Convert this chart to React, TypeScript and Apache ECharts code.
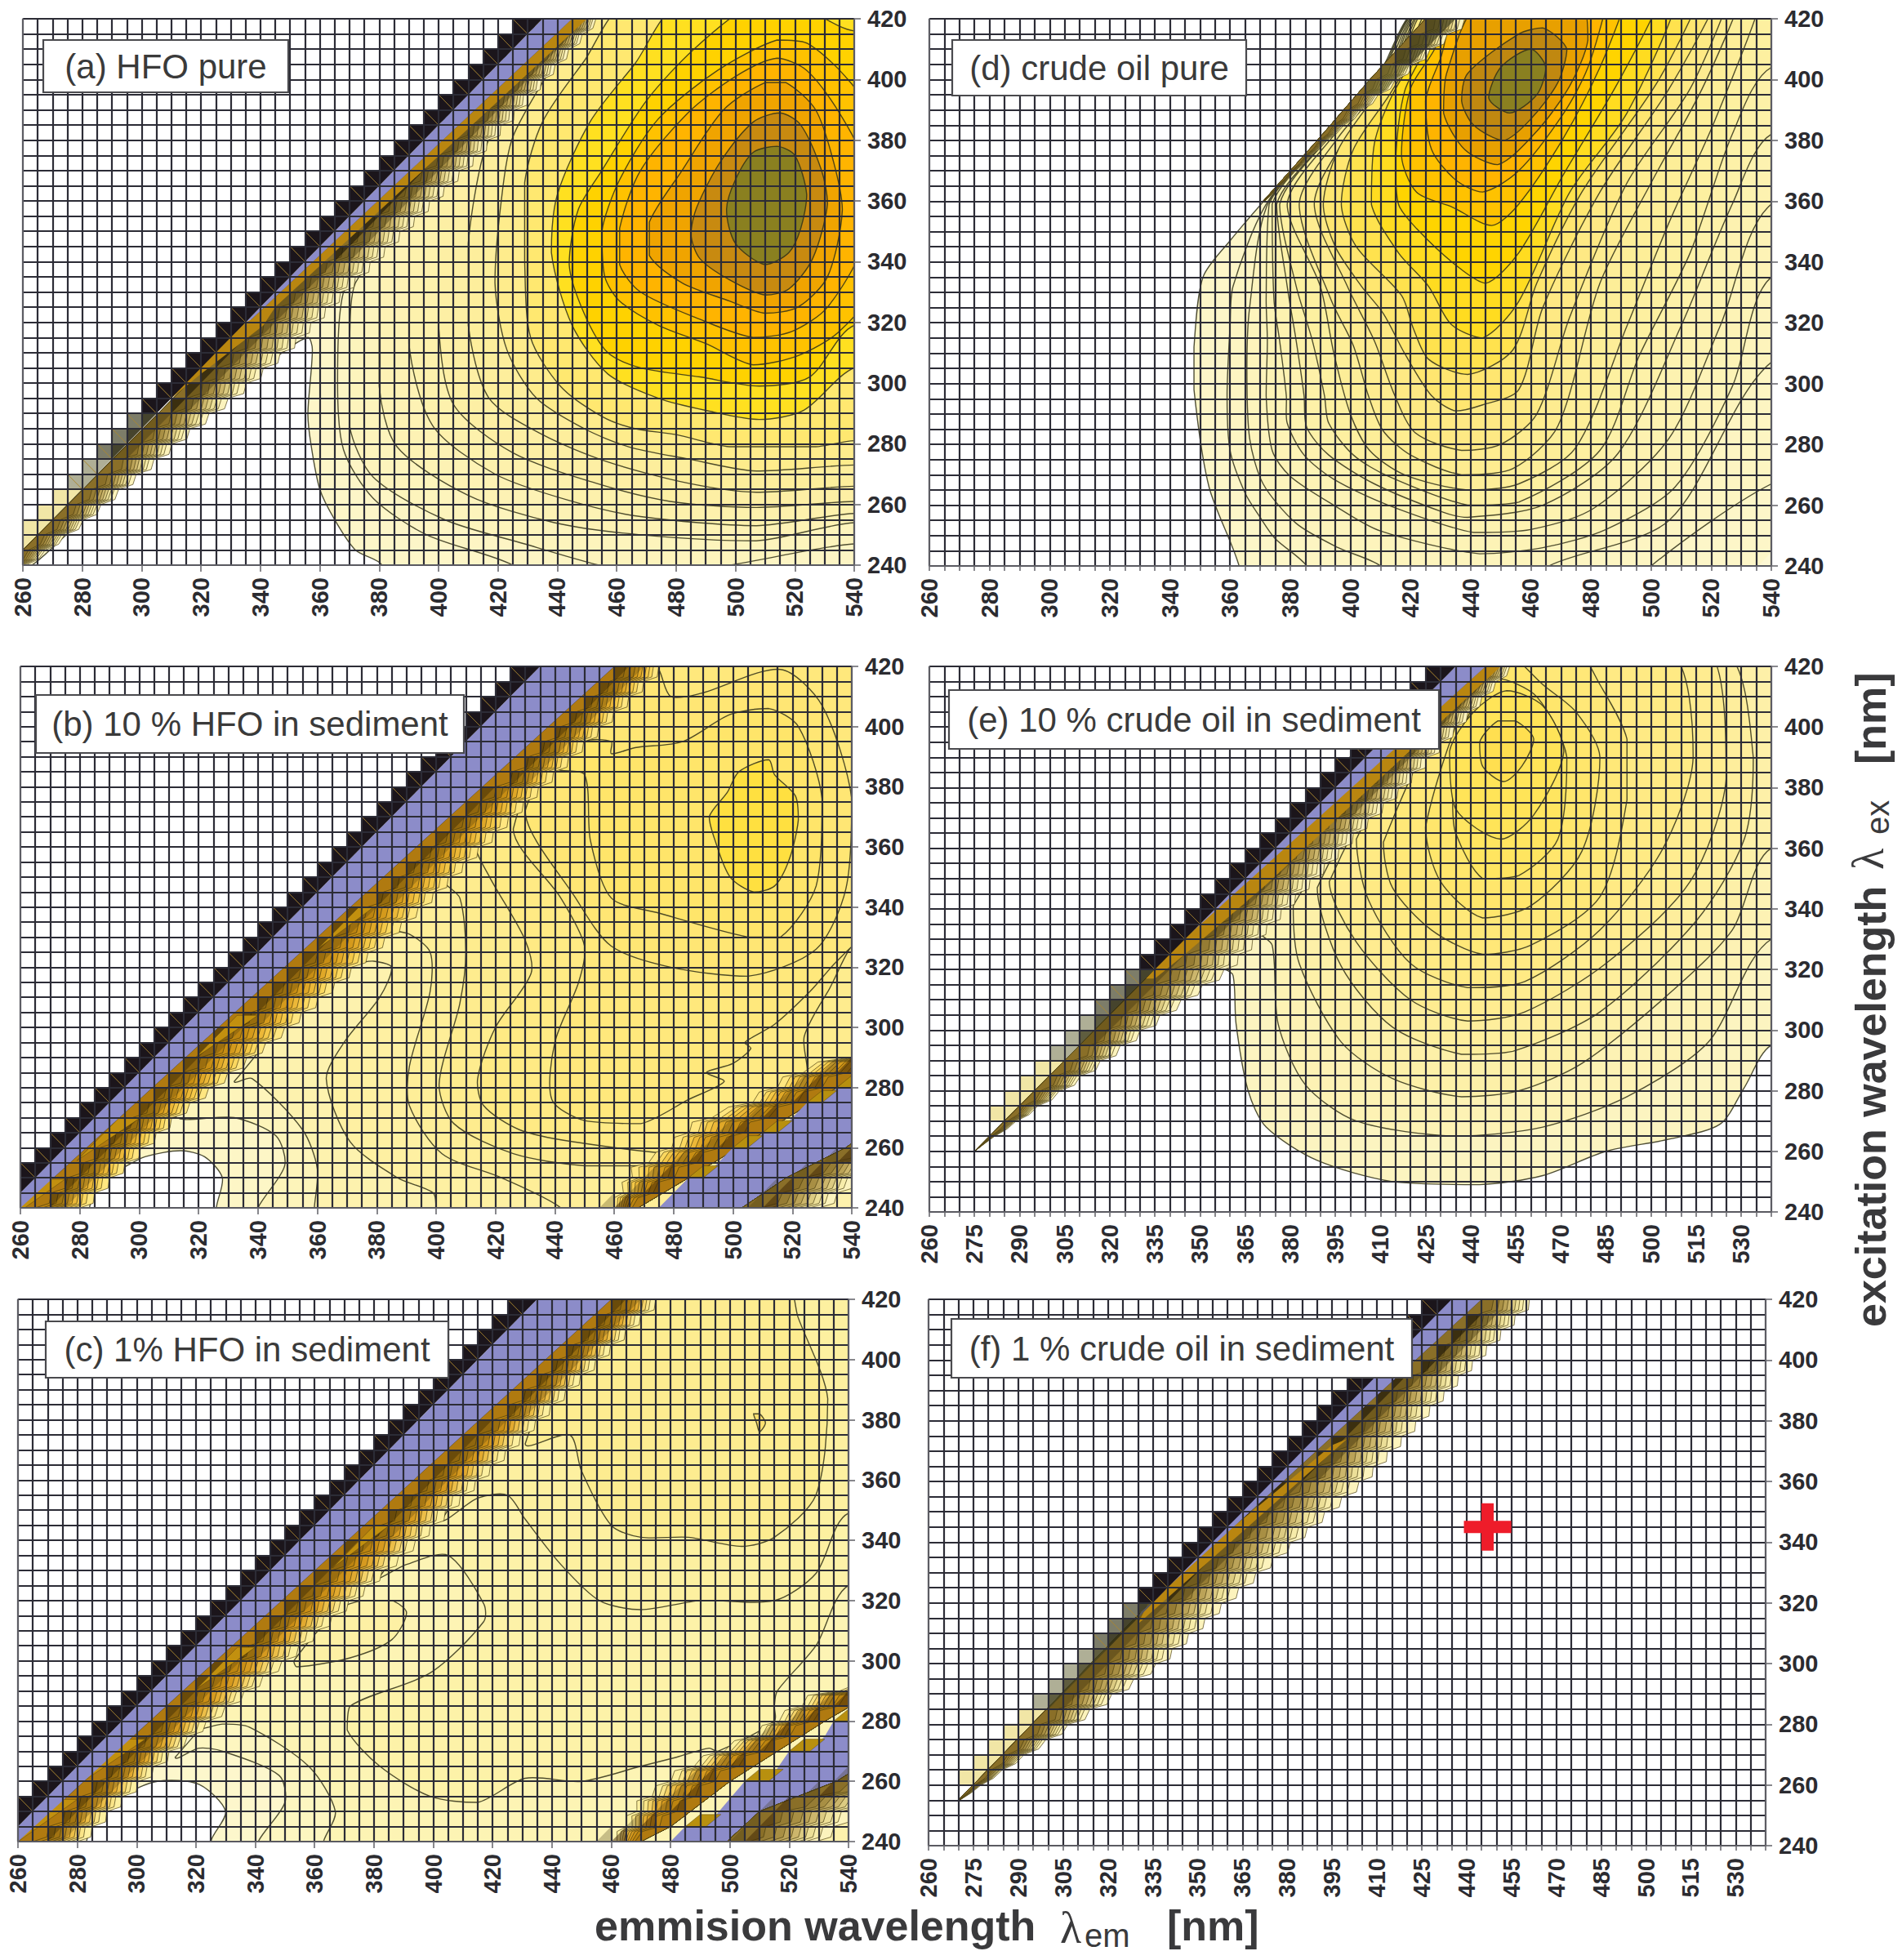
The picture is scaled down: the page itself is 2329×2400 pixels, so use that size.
import React, { useEffect, useRef } from "react";
import * as echarts from "echarts";

type P = number[];
const TICKS_20 = [260, 280, 300, 320, 340, 360, 380, 400, 420, 440, 460, 480, 500, 520, 540];
const TICKS_15 = [260, 275, 290, 305, 320, 335, 350, 365, 380, 395, 410, 425, 440, 455, 470, 485, 500, 515, 530];
const EX_ROWS = [240, 245, 250, 255, 260, 265, 270, 275, 280, 285, 290, 295, 300, 305, 310, 315, 320, 325, 330, 335, 340, 345, 350, 355, 360, 365, 370, 375, 380, 385, 390, 395, 400, 405, 410, 415, 420];

const COLORS_A = ["#fdf6c8", "#fdf5c4", "#fdf4bc", "#fdf2b4", "#fdf1ac", "#fdefa4", "#fdee9c", "#feec8c", "#ffe870", "#ffe020", "#ffd200", "#ffc200", "#ffb400", "#f0a400", "#c88a10", "#8a8020"];
const COLORS_D = ["#fdf6c8", "#fdf5c2", "#fdf4bc", "#fdf3b6", "#fdf2b0", "#fdf1a8", "#fdf0a0", "#fdee98", "#feec90", "#fee984", "#ffe670", "#ffe24e", "#ffdc20", "#ffd400", "#ffc200", "#ffb400", "#e8a000", "#c08810", "#8a8020"];
const COLORS_B = ["#fdf6c6", "#fdf4ba", "#fdf2ae", "#fef0a2", "#feee98", "#feec8e", "#ffea84", "#ffe87c", "#ffe674", "#ffe56a", "#ffe040"];
const COLORS_C = ["#fdf7cc", "#fdf6c0", "#fdf4b4", "#fdf2a8", "#fdf0a4", "#fdf0a0", "#fdec90", "#fde070"];
const COLORS_E = ["#fcf4c0", "#fdf2b4", "#fdf0a8", "#feee9c", "#ffec90", "#ffea84", "#ffe878", "#ffe66c", "#ffe560", "#ffe458", "#ffdf50"];
const RIDGE_PALE = ["#fcf3bd", "#f7ecaa", "#ecdf98", "#dccb82", "#ccb66c", "#bba358", "#a88f44", "#967c34", "#8a6f28"];
const RIDGE_WARM = ["#ffe680", "#fbd860", "#f4c848", "#ecb838", "#e0a828", "#d49a1c", "#c88e14", "#bc8410", "#b07a10"];
const RIDGE_SOFT = ["#fdf0a0", "#fae488", "#f4d268", "#ecbe48", "#e2aa30", "#d69a20", "#ca8e16", "#bc8410", "#b07a10"];
const RIDGE_T = [1, 0.88, 0.8, 0.72, 0.64, 0.56, 0.47, 0.37, 0.25];

const contoursA: P[][] = [
  [[261, 240], [278, 253], [297, 269], [315, 284], [333, 298], [346, 309], [356, 315], [357.5, 311], [356, 290], [357, 280], [360, 265], [365, 255], [372, 245], [381, 240], [381, 230], [600, 230], [600, 440], [450, 425]],
  [[425, 235], [425, 240], [396, 250], [378, 262], [368, 278], [366, 300], [368, 330], [440, 425], [600, 425], [600, 235]],
  [[600, 247], [540, 247], [498, 240], [470, 237], [454, 240], [429, 247], [402, 255], [378, 269], [370, 286], [370, 313], [372, 333], [440, 425], [600, 425]],
  [[600, 254], [540, 254], [507, 248], [468, 250], [439, 254], [410, 263], [386, 279], [380, 299], [380, 346], [440, 425], [600, 425]],
  [[600, 257], [540, 257], [507, 253], [468, 256], [445, 261], [419, 270], [398, 286], [390, 313], [390, 357], [440, 425], [600, 425]],
  [[600, 261], [540, 261], [507, 259], [478, 261], [453, 267], [425, 277], [405, 293], [400, 319], [400, 359], [407, 378], [440, 425], [600, 425]],
  [[600, 266], [540, 266], [507, 264], [484, 267], [457, 274], [435, 283], [417, 295], [410, 319], [410, 346], [415, 375], [423, 393], [440, 425], [600, 425]],
  [[600, 273], [540, 273], [507, 271], [484, 275], [464, 279], [449, 285], [433, 295], [423, 311], [419, 333], [421, 359], [425, 381], [441, 409], [449, 425], [600, 425]],
  [[600, 281], [540, 281], [527, 279], [498, 279], [480, 283], [466, 285], [455, 289], [441, 299], [431, 315], [429, 340], [429, 366], [435, 386], [449, 406], [464, 425], [600, 425]],
  [[600, 320], [540, 305], [523, 291], [508, 288], [490, 291], [474, 295], [457, 303], [445, 319], [438, 343], [440, 362], [451, 386], [466, 405], [482, 425], [600, 425]],
  [[508, 299], [488, 302], [468, 305], [457, 310], [449, 323], [444, 339], [447, 357], [455, 370], [470, 393], [486, 410], [506, 425], [520, 425], [540, 416], [600, 416], [600, 330], [540, 319], [525, 302]],
  [[506, 306], [490, 313], [474, 319], [461, 327], [456, 335], [455, 350], [461, 367], [474, 387], [494, 403], [514, 413], [524, 412], [537, 401], [547, 386], [547, 333], [535, 317], [521, 309]],
  [[506, 315], [488, 321], [468, 330], [461, 339], [461, 351], [468, 370], [484, 389], [500, 401], [514, 407], [524, 403], [535, 389], [543, 373], [543, 346], [531, 325], [519, 317]],
  [[510, 323], [498, 327], [482, 333], [471, 342], [471, 353], [482, 370], [496, 390], [510, 399], [517, 399], [527, 390], [533, 373], [536, 357], [531, 335], [521, 325]],
  [[510, 329], [498, 334], [488, 341], [485, 349], [487, 358], [495, 373], [506, 386], [515, 389], [522, 385], [529, 370], [531, 359], [526, 341], [518, 331]],
  [[510, 339], [500, 346], [497, 357], [500, 367], [506, 376], [514, 378], [520, 375], [524, 362], [522, 351], [518, 343]],
];

const contoursD: P[][] = [
  [[363, 240], [353, 266], [348, 298], [348, 312], [351, 335], [360, 347], [373, 362], [387, 377], [397, 389], [406, 398], [415, 410], [425, 420], [425, 425], [600, 425], [600, 230], [363, 230]],
  [[385, 235], [385.5, 240], [375, 249], [370, 256], [365, 264], [360, 278], [359, 296], [360, 319], [361, 332], [372, 359], [389.5, 379], [408, 399], [425.2, 425], [600, 425], [600, 290], [540, 267], [500, 240], [500, 235]],
  [[410, 235], [410, 240], [396, 246], [382, 254], [371, 267], [366.5, 282], [365.6, 305], [366.5, 325], [372.5, 359], [390, 379], [408.5, 399], [425.4, 425], [600, 425], [600, 330], [540, 307], [506, 255], [466, 240], [466, 235]],
  [[443, 244], [410, 251.5], [394.5, 260], [380, 269.5], [374, 278], [372, 296], [372.4, 314], [372, 327.5], [373, 359], [390.5, 379], [409, 399], [425.6, 425], [600, 425], [600, 360], [540, 335], [527, 299], [508, 266], [485, 252], [464, 246]],
  [[441, 251], [412.6, 260], [394.5, 268.5], [384.6, 276.5], [379, 287], [378.7, 296], [376.5, 314], [374.6, 327.5], [374, 359], [391, 380], [410, 399], [425.8, 425], [600, 425], [600, 380], [540, 359], [523, 319], [506, 282], [481, 259], [460, 252]],
  [[439, 256], [430.8, 257.7], [408, 267], [392.8, 276.5], [385.5, 285.6], [384.6, 296], [382, 314], [379, 332], [375.5, 359], [392, 380], [411, 399], [426, 425], [600, 425], [600, 400], [540, 382], [527, 359], [510, 319], [489, 277], [464, 260]],
  [[439, 260], [412.6, 269.5], [401, 276.5], [392.8, 287], [391.4, 296], [387.4, 314], [382, 332], [376.5, 359], [393, 381], [412, 400], [426.3, 425], [600, 425], [600, 420], [540, 404], [527, 382], [513, 343], [496, 309], [483, 278], [456, 261]],
  [[439, 265], [418, 270], [406.4, 278], [400, 290], [394.5, 310], [390, 332], [379, 359], [394, 381], [413, 401], [426.6, 425], [536, 425], [521, 386], [506, 353], [492, 319], [475, 279], [456, 267]],
  [[437, 270], [420, 276.5], [410.8, 284.6], [406, 296], [401, 312.5], [393.6, 327.5], [383, 359], [396, 381], [414, 402], [427, 425], [529, 425], [517, 397], [500, 366], [483, 333], [469, 286], [454, 272]],
  [[437, 278], [421.6, 283.8], [414.8, 296], [408, 314], [399, 332], [388, 359], [398, 380], [415, 402], [427.5, 425], [525, 425], [513, 397], [492, 366], [473, 322], [462, 290], [450, 280]],
  [[435, 291], [427, 296], [418, 310], [411, 323], [403.7, 332], [395, 345], [391, 359], [396, 377], [407, 393], [419, 409], [428.5, 425], [521, 425], [506, 397], [483, 363], [464, 325], [456, 298], [444, 293]],
  [[439, 303], [426, 308], [421, 318], [417, 329], [402, 345], [397, 359], [401, 377], [413, 395], [422, 410], [429.5, 425], [515, 425], [502, 399], [477, 363], [462, 333], [454, 311]],
  [[444, 315], [433.5, 319.5], [426, 332], [416, 343], [407, 359], [408, 379], [414, 395], [424, 412], [430.5, 425], [508, 425], [492, 389], [473, 363], [456, 327]],
  [[445, 333], [435, 339], [422, 351], [416, 359], [415, 373], [418, 396], [425, 410], [432, 425], [502, 425], [489, 399], [471, 369], [456, 343]],
  [[447, 352], [434, 358], [422, 363], [417, 375], [420, 397], [428, 410], [434, 425], [491, 425], [483, 404], [471, 381], [456, 359]],
  [[444, 363], [435, 367], [427, 377], [425, 393], [430, 407], [437, 425], [485, 425], [479, 404], [471, 389], [456, 370]],
  [[449, 372], [438, 377], [431, 389], [432, 402], [443, 425], [477, 425], [479, 413], [473, 398], [462, 383]],
  [[451, 380], [441, 385], [437, 393], [439, 402], [456, 415], [464, 417], [472, 410], [469, 399], [460, 387]],
  [[453, 389], [446, 394], [450, 404], [460, 410], [465, 404], [462, 395]],
];

const contoursB: P[][] = [
  [[262, 236], [281, 236], [286, 249], [294, 253], [302, 257], [314, 259], [322, 257], [328, 250], [326, 240], [326, 225], [600, 225], [600, 440], [480, 440]],
  [[340, 235], [340, 240], [349, 254], [346, 264], [332, 270], [312, 271], [462, 425], [600, 425], [600, 235]],
  [[359, 235], [359, 240], [360, 253], [355, 266], [338, 283], [332, 282], [462, 425], [600, 425], [600, 235]],
  [[400, 235], [400, 240], [399, 245], [387, 250], [371, 262], [363, 283], [369, 295], [381, 310], [385, 320], [379, 322], [372, 322], [462, 425], [600, 425], [600, 235]],
  [[442, 235], [442, 240], [422, 250], [402, 258], [391, 274], [391, 287], [398, 312], [398, 325], [391, 331], [381, 334], [462, 425], [600, 425], [600, 235]],
  [[600, 300], [480, 254], [450, 254], [426, 258], [406, 268], [401, 281], [408, 308], [410, 325], [408, 343], [402, 350], [462, 425], [600, 425]],
  [[482, 258], [446, 262], [428, 266], [416, 274], [414, 283], [420, 300], [432, 318], [430, 329], [418, 350], [413, 361], [462, 425], [600, 425], [600, 340], [545, 332], [532, 312], [524, 297], [524, 282]],
  [[439, 276], [450, 269], [469, 268], [485, 276], [497, 282], [491, 285], [500, 288], [506, 293], [504, 295], [514, 301], [526, 312], [535, 322], [545, 330], [600, 340], [600, 425], [462, 425], [426, 366], [442, 343], [450, 327], [448, 315], [440, 295]],
  [[430, 372], [447, 343], [459, 327], [479, 320], [505, 317], [528, 326], [538, 346], [540, 376], [530, 407], [516, 419], [489, 411], [479, 410], [475, 419], [470, 425]],
  [[441, 386], [450, 384], [452, 362], [459, 343], [475, 338], [505, 330], [516, 330], [528, 347], [530, 376], [522, 400], [512, 406], [499, 404], [483, 395], [467, 393], [459, 391], [459, 395], [450, 395]],
  [[507, 345], [499, 350], [494, 362], [492, 370], [498, 378], [502, 385], [512, 389], [514, 384], [521, 377], [522, 369], [519, 356], [514, 347]],
];

const contoursC: P[][] = [
  [[262, 236], [281, 236], [285, 246], [295, 255], [307, 260], [321, 259], [330, 250], [325, 240], [325, 225], [600, 225], [600, 440], [480, 440]],
  [[341, 235], [341, 240], [350, 253], [348, 262], [329, 270], [321, 271], [313, 268], [462, 425], [600, 425], [600, 235]],
  [[363, 235], [363, 240], [367, 250], [358, 265], [338, 278], [329, 279], [321, 278], [462, 425], [600, 425], [600, 235]],
  [[600, 425], [462, 425], [382, 328], [391, 332], [405, 335], [417, 319], [417, 313], [399, 296], [372, 285], [371, 277], [382, 265], [399, 255], [415, 253], [431, 261], [450, 260], [470, 265], [482, 268], [493, 271], [496, 270], [515, 280], [515, 285], [516, 290], [529, 305], [540, 325], [600, 345]],
  [[353, 300], [354, 298], [372, 301], [386, 307], [391, 316], [386, 320], [376, 320], [368, 317]],
  [[600, 425], [462, 425], [403, 347], [415, 354], [425, 355], [431, 347], [443, 332], [456, 320], [470, 317], [490, 320], [515, 320], [529, 329], [540, 349], [600, 360]],
  [[431, 372], [446, 375], [450, 363], [460, 345], [470, 341], [486, 341], [504, 338], [515, 341], [529, 355], [533, 387], [523, 414], [519, 425], [462, 425]],
  [[508, 382], [510, 382], [512, 379], [510, 376], [509, 379]],
];

const contoursE: P[][] = [
  [[358, 320], [361, 318], [362, 302], [366, 280], [372, 268], [389, 257], [414, 250], [443, 249], [464, 252], [485, 260], [506, 264], [523, 269], [531, 281], [540, 295], [600, 320], [600, 440], [460, 440], [340, 320]],
  [[369, 333], [374, 328], [376, 302], [385, 282], [402, 270], [435, 265], [464, 268], [492, 278], [519, 296], [540, 330], [600, 345], [600, 425], [445, 425]],
  [[381, 341], [383, 322], [397, 296], [414, 284], [437, 278], [456, 280], [477, 289], [506, 312], [527, 333], [540, 360], [600, 375], [600, 425], [445, 425]],
  [[389, 347], [397, 321], [414, 301], [437, 292], [454, 293], [483, 306], [515, 336], [531, 363], [534, 390], [524, 425], [445, 425]],
  [[393, 349], [402, 329], [420, 310], [439, 303], [458, 306], [485, 322], [513, 349], [525, 383], [519, 425], [445, 425]],
  [[402, 363], [406, 343], [420, 322], [439, 314], [458, 316], [483, 333], [504, 360], [514, 390], [506, 425], [445, 425]],
  [[411, 362], [414, 347], [427, 333], [444, 325], [460, 328], [483, 344], [492, 376], [492, 396], [483, 414], [475, 425], [445, 425]],
  [[425, 367], [430, 349], [444, 337], [460, 341], [477, 359], [483, 390], [475, 405], [464, 414], [452, 425], [445, 425]],
  [[434, 376], [435, 365], [444, 350], [456, 351], [469, 363], [472, 390], [462, 410], [449, 416], [439, 403]],
  [[433, 392], [435, 373], [450, 363], [461, 371], [471, 392], [464, 407], [452, 412], [441, 405]],
  [[451, 382], [444, 387], [443, 395], [449, 402], [455, 402], [461, 396], [457, 387]],
];

const RIM_A: P[] = [[240, 21], [253, 25], [269, 28], [284, 31], [298, 35], [312, 37], [340, 37], [373, 37], [420, 33]];
const CORE_A: P[] = [[240, 15], [321, 16], [420, 25]];
const RIM_BC: P[] = [[240, 40], [250, 40], [271, 41], [300, 49], [340, 54], [420, 55]];
const CORE_BC: P[] = [[240, 20], [420, 40]];
const RIM_D: P[] = [[360, 11.5], [380, 12], [400, 15], [420, 18]];
const CORE_D: P[] = [[360, 11], [380, 9], [400, 6.5], [420, 5]];
const RIM_E: P[] = [[261, 15], [284, 25], [306, 32], [320, 38], [341, 37], [365, 36], [380, 36], [420, 33]];
const CORE_E: P[] = [[261, 15], [332, 15], [420, 25]];
const RIM_F: P[] = [[254, 15], [268, 21], [300, 36], [320, 38], [360, 44], [420, 41]];
const CORE_F: P[] = [[254, 15], [317, 14], [420, 25]];

const RIM2_B: P[] = [[240, 460], [253, 468], [258, 477], [263, 483], [269, 490], [274, 505], [280, 515], [284, 521], [288, 532], [290, 540], [296, 552]];
const CORE2_B: P[] = [[240, 468], [250, 485], [280, 535], [296, 562]];
const RIM2_C: P[] = [[240, 462], [252, 470], [263, 484], [269, 496], [275, 509], [288, 529], [292, 545], [300, 560]];
const CORE2_C: P[] = [[240, 470], [245, 480], [260, 500], [270, 516], [280, 532], [296, 560]];
const RIM3: P[] = [[240, 529], [249, 540], [260, 555]];
const CORE3_B: P[] = [[240, 503], [250, 518], [260, 538], [270, 552]];
const CORE3_C: P[] = [[240, 499], [250, 510], [260, 536], [270, 552]];

const BLUE_A: P[] = [[435, 420], [445, 420], [337, 321], [335, 320]];
const BLUE_BC: P[] = [[435, 420], [460, 420], [260, 240], [260, 245]];
const BLUE_E: P[] = [[435, 420], [445, 420], [347, 332], [346, 331]];
const BLUE_F: P[] = [[434, 420], [445, 420], [331, 317], [330, 315]];
const BLUE2_B: P[] = [[475, 240], [485, 250], [490, 250], [500, 260], [505, 260], [510, 265], [515, 265], [525, 275], [530, 275], [535, 280], [545, 280], [545, 260], [540, 260], [535, 255], [530, 255], [520, 250], [515, 245], [505, 240]];
const BLUE2_C: P[] = [[480, 240], [485, 245], [492, 245], [505, 260], [513, 260], [520, 270], [527, 270], [532, 275], [535, 280], [545, 280], [545, 260], [540, 260], [525, 250], [512, 250], [501, 240]];
const CORNER_PALE: P[] = [[505, 235], [600, 235], [600, 275], [540, 260]];
const CORNER_D: P[] = [[535.6, 240], [540, 244.5], [545, 244.5], [545, 235], [535.6, 235]];

const GOLD_A: P[] = [[445, 420], [450, 420], [345, 325], [341, 319], [320, 303], [305, 291], [304, 290], [335, 320], [337, 321]];
const GOLD_E: P[] = [[445, 420], [450, 420], [372, 348], [345, 325], [335, 317], [332, 317], [346, 332]];
const GOLD_F: P[] = [[395, 372], [400, 374], [345, 326], [330, 313], [335, 323]];
const FLAGS_B: P[] = [[249.5, 269, 275], [269.7, 293, 300], [304, 333, 340], [340, 374, 379]];
const FLAGS_C: P[] = [[254, 274, 280], [274, 296, 303], [304.5, 334, 340], [344.8, 380, 385]];
const FLAGS2_B: P[] = [[250, 485, 490], [260, 500, 505], [265, 510, 515], [275, 525, 530], [280, 535, 540]];
const FLAGS2_C: P[] = [[245, 485, 492], [260, 505, 513], [270, 520, 527], [280, 535, 540]];

const TRI_A: P[] = [[240, 15], [290, 20], [340, 25]];
const TRI_BC: P[] = [[240, 30], [300, 35], [340, 40], [380, 45]];
const TRI_E: P[] = [[260, 10], [290, 15], [330, 20], [370, 25]];
const TRI_F: P[] = [[255, 10], [285, 15], [320, 20], [360, 25], [395, 30]];
const CROSS_F: P = [447, 345];

const interp = (k: P[], ex: number) => {
  if (ex <= k[0][0]) return k[0][1];
  for (let i = 1; i < k.length; i++) {
    if (ex <= k[i][0]) {
      const t = (ex - k[i - 1][0]) / (k[i][0] - k[i - 1][0]);
      return k[i - 1][1] + t * (k[i][1] - k[i - 1][1]);
    }
  }
  return k[k.length - 1][1];
};

type Shape = { pts: P[]; fill: string; stroke?: string; lw?: number; smooth?: number };
const CONTOUR = "rgba(48,48,24,0.85)";
const SCALLOP = "rgba(70,58,14,0.75)";
const BLUE = "#8c8cc9";
const BLACK = "#1b151b";

function contourShapes(polys: P[][], colors: string[]): Shape[] {
  return polys.map((pts, i) => ({ pts, fill: colors[i], stroke: CONTOUR, lw: 1.4, smooth: 0.28 }));
}
function ridgeShapes(rim: P[], core: P[], offsetMode: boolean, rows: number[], palette: string[]): Shape[] {
  const out: Shape[] = [];
  const base = (ex: number) => (offsetMode ? ex : 0);
  RIDGE_T.forEach((t, i) => {
    const pts: P[] = [];
    rows.forEach((r, j) => {
      const e = (ex: number) => {
        const c = base(ex) + interp(core, ex);
        const m = base(ex) + interp(rim, ex);
        return c + (m - c) * t;
      };
      pts.push([e(r), r]);
      if (j < rows.length - 1) {
        const c = base(r + 2.5) + interp(core, r + 2.5);
        const m = base(r + 2.5) + interp(rim, r + 2.5);
        const bulge = Math.sign(m - c) * Math.min(2, Math.abs(m - c) * 0.15);
        pts.push([e(r + 2.5) + bulge, r + 2.5 - bulge * 0.5]);
      }
    });
    for (let j = rows.length - 1; j >= 0; j--) {
      const r = rows[j];
      pts.push([base(r) + interp(core, r), r]);
    }
    out.push({ pts, fill: palette[i], stroke: SCALLOP, lw: 0.9 });
  });
  return out;
}
const TRI_DARK = [0.7, 0.4, 0.36];
const TRI_WARM = [0.46, 0.26, 0.3];
function triShapes(steps: P[], rows: number[], a: number[]): Shape[] {
  const out: Shape[] = [];
  rows.forEach((r) => {
    let k = steps[0][1];
    steps.forEach((s) => {
      if (r >= s[0]) k = s[1];
    });
    const c = r + k;
    out.push({ pts: [[c, r], [c, r + 5], [c + 5, r + 5]], fill: `rgba(25,20,5,${a[0]})` });
    out.push({ pts: [[c + 5, r], [c + 5, r + 5], [c + 10, r + 5]], fill: `rgba(60,50,15,${a[1]})` });
    out.push({ pts: [[c, r], [c + 5, r], [c + 5, r + 5]], fill: `rgba(70,55,10,${a[2]})` });
  });
  return out;
}
function triShapes2(core: P[], rows: number[], shift: number): Shape[] {
  const out: Shape[] = [];
  rows.forEach((r) => {
    const c = Math.round((interp(core, r) + shift) / 5) * 5;
    out.push({ pts: [[c, r], [c + 5, r], [c + 5, r + 5]], fill: "rgba(60,36,4,0.5)" });
    out.push({ pts: [[c - 5, r], [c, r], [c, r + 5]], fill: "rgba(60,50,15,0.28)" });
  });
  return out;
}
function teethShapes(rows: number[], fill: string, stroke?: string): Shape[] {
  return rows.map((r) => ({
    pts: [[r + 10, r], [r + 10, r + 5], [r + 20, r + 5], [r + 15, r]],
    fill,
    stroke,
    lw: stroke ? 1 : 0,
  }));
}
function toothLines(rows: number[]): Shape[] {
  return rows.map((r) => ({
    pts: [[r + 10, r + 5], [r + 15, r]],
    fill: "none",
    stroke: "rgba(170,135,50,0.6)",
    lw: 1,
  }));
}
function flagShapes(flags: P[]): Shape[] {
  return flags.map((f) => ({
    pts: [[f[1], f[0]], [f[2], f[0]], [f[1] - 14, f[0] - 14]],
    fill: "#c2900f",
    stroke: "rgba(70,55,10,0.5)",
    lw: 0.8,
  }));
}
function stairFlags(flags: P[]): Shape[] {
  return flags.map((f) => ({
    pts: [[f[1], f[0]], [f[2], f[0]], [f[2] + 5, f[0] + 4], [f[1] + 5, f[0] + 4]],
    fill: "#b8900f",
    stroke: "rgba(70,55,10,0.5)",
    lw: 0.8,
  }));
}
const rowsBetween = (a: number, b: number) => EX_ROWS.filter((r) => r >= a && r <= b);
const poly = (pts: P[], fill: string): Shape => ({ pts, fill });

const OLIVE = "rgba(58,58,28,0.66)";
const OLIVE_LIGHT = "rgba(96,96,46,0.5)";
const PALE_TOOTH = "#f1e6a6";
const TOOTH_EDGE = "rgba(90,85,40,0.8)";
const GOLD = "#b98610";
const shapesA = [
  ...contourShapes(contoursA, COLORS_A),
  ...teethShapes(rowsBetween(245, 260), PALE_TOOTH, TOOTH_EDGE),
  ...ridgeShapes(RIM_A, CORE_A, true, rowsBetween(240, 420), RIDGE_PALE),
  ...triShapes(TRI_A, rowsBetween(275, 410), TRI_DARK),
  poly(GOLD_A, GOLD),
  poly(BLUE_A, BLUE),
  ...teethShapes(rowsBetween(265, 270), OLIVE_LIGHT),
  ...teethShapes(rowsBetween(275, 285), OLIVE),
  ...teethShapes(rowsBetween(290, 415), BLACK),
  ...toothLines(rowsBetween(265, 415)),
];
const lowerRight = (rim2: P[], core2: P[], blue2: P[], core3: P[], flags2: P[], palette: string[]) => [
  ...ridgeShapes(rim2, core2, false, rowsBetween(240, 295), palette),
  ...triShapes2(core2, rowsBetween(240, 285), -8),
  poly(blue2, BLUE),
  ...stairFlags(flags2),
  poly(CORNER_PALE, "#fdf1ac"),
  ...ridgeShapes(RIM3, core3, false, rowsBetween(240, 265), RIDGE_PALE),
  ...triShapes2(core3, rowsBetween(240, 260), 5),
];
const shapesB = [
  ...contourShapes(contoursB, COLORS_B),
  ...ridgeShapes(RIM_BC, CORE_BC, true, rowsBetween(240, 420), RIDGE_WARM),
  ...triShapes(TRI_BC, rowsBetween(240, 415), TRI_WARM),
  ...flagShapes(FLAGS_B),
  poly(BLUE_BC, BLUE),
  ...teethShapes(rowsBetween(245, 415), BLACK),
  ...toothLines(rowsBetween(245, 415)),
  ...lowerRight(RIM2_B, CORE2_B, BLUE2_B, CORE3_B, FLAGS2_B, RIDGE_WARM),
];
const shapesC = [
  ...contourShapes(contoursC, COLORS_C),
  ...ridgeShapes(RIM_BC, CORE_BC, true, rowsBetween(240, 420), RIDGE_SOFT),
  ...triShapes(TRI_BC, rowsBetween(240, 415), TRI_WARM),
  ...flagShapes(FLAGS_C),
  poly(BLUE_BC, BLUE),
  ...teethShapes(rowsBetween(245, 415), BLACK),
  ...toothLines(rowsBetween(245, 415)),
  ...lowerRight(RIM2_C, CORE2_C, BLUE2_C, CORE3_C, FLAGS2_C, RIDGE_SOFT),
];
const shapesD = [
  ...contourShapes(contoursD, COLORS_D),
  poly(CORNER_D, "#fdf8d4"),
  ...ridgeShapes(RIM_D, CORE_D, true, rowsBetween(360, 420), RIDGE_PALE),
  ...teethShapes(rowsBetween(395, 400), OLIVE_LIGHT),
  ...teethShapes(rowsBetween(405, 415), OLIVE),
];
const shapesE = [
  ...contourShapes(contoursE, COLORS_E),
  ...teethShapes(rowsBetween(270, 285), PALE_TOOTH, TOOTH_EDGE),
  ...ridgeShapes(RIM_E, CORE_E, true, rowsBetween(260, 420), RIDGE_PALE),
  ...triShapes(TRI_E, rowsBetween(295, 410), TRI_DARK),
  poly(GOLD_E, GOLD),
  poly(BLUE_E, BLUE),
  ...teethShapes(rowsBetween(290, 300), OLIVE_LIGHT),
  ...teethShapes(rowsBetween(305, 315), OLIVE),
  ...teethShapes(rowsBetween(320, 415), BLACK),
  ...toothLines(rowsBetween(305, 415)),
];
const shapesF = [
  ...teethShapes(rowsBetween(260, 280), PALE_TOOTH, TOOTH_EDGE),
  ...ridgeShapes(RIM_F, CORE_F, true, rowsBetween(255, 420), RIDGE_PALE),
  ...triShapes(TRI_F, rowsBetween(285, 410), TRI_DARK),
  poly(GOLD_F, GOLD),
  poly(BLUE_F, BLUE),
  ...teethShapes(rowsBetween(285, 300), OLIVE_LIGHT),
  ...teethShapes(rowsBetween(305, 315), OLIVE),
  ...teethShapes(rowsBetween(320, 415), BLACK),
  ...toothLines(rowsBetween(305, 415)),
];

const PANELS = [
  { rect: [28, 23, 1046, 692], shapes: shapesA, labels: TICKS_20, sparse: true, box: [53, 49, 353, 113], title: "(a) HFO pure" },
  { rect: [25, 816, 1043, 1479], shapes: shapesB, labels: TICKS_20, sparse: true, box: [44, 851, 568, 922], title: "(b) 10 % HFO in sediment" },
  { rect: [22, 1591, 1039, 2255], shapes: shapesC, labels: TICKS_20, sparse: true, box: [56, 1618, 549, 1687], title: "(c) 1% HFO in sediment" },
  { rect: [1138, 23, 2169, 693], shapes: shapesD, labels: TICKS_20, sparse: false, box: [1166, 49, 1526, 117], title: "(d) crude oil pure" },
  { rect: [1138, 816, 2169, 1484], shapes: shapesE, labels: TICKS_15, sparse: false, box: [1162, 845, 1762, 917], title: "(e) 10 % crude oil in sediment" },
  { rect: [1137, 1591, 2162, 2260], shapes: shapesF, labels: TICKS_15, sparse: false, box: [1165, 1615, 1729, 1687], title: "(f) 1 % crude oil in sediment" },
];

const LABEL_FONT = { fontFamily: "Liberation Sans", fontWeight: "bold" as const, fontSize: 29, color: "#2b2b30" };
const AXIS_TITLE = '700 52px "Liberation Sans"';
const TITLE_COLOR = "#3a3a3c";

function buildOption() {
  const grid: any[] = [];
  const xAxis: any[] = [];
  const yAxis: any[] = [];
  const series: any[] = [];
  const graphic: any[] = [];
  const grey = { lineStyle: { color: "#6a6a70", width: 1.6 } };
  const gridLine = { show: true, lineStyle: { color: "#2c2c36", width: 2.2 } };

  PANELS.forEach((p, i) => {
    const [l, t, r, b] = p.rect;
    grid.push({ left: l, top: t, width: r - l, height: b - t, containLabel: false, show: false });
    const labelSet = p.labels;
    xAxis.push({
      type: "value", gridIndex: i, min: 260, max: 540, interval: 5, position: "bottom", z: 5,
      splitLine: gridLine, axisLine: { show: true, ...grey },
      axisTick: { show: !p.sparse, length: 6, ...grey },
      axisLabel: p.sparse
        ? { show: false }
        : { show: true, rotate: 90, margin: 15, ...LABEL_FONT, hideOverlap: false, formatter: (v: number) => (labelSet.includes(v) ? String(v) : "") },
    });
    xAxis.push({
      type: "value", gridIndex: i, min: 260, max: 540, interval: 20, position: "bottom", z: 5,
      show: p.sparse, splitLine: { show: false }, axisLine: { show: false },
      axisTick: { show: true, length: 8, ...grey },
      axisLabel: { show: true, rotate: 90, margin: 15, ...LABEL_FONT },
    });
    yAxis.push({
      type: "value", gridIndex: i, min: 240, max: 420, interval: 5, position: "left", z: 5,
      splitLine: gridLine, axisLine: { show: true, ...grey }, axisTick: { show: false }, axisLabel: { show: false },
    });
    yAxis.push({
      type: "value", gridIndex: i, min: 240, max: 420, interval: 20, position: "right", z: 5,
      splitLine: { show: false }, axisLine: { show: true, ...grey },
      axisTick: { show: true, length: 8, ...grey },
      axisLabel: { show: true, margin: 16, ...LABEL_FONT },
    });
    const shapes = p.shapes as Shape[];
    series.push({
      type: "custom",
      xAxisIndex: i * 2,
      yAxisIndex: i * 2,
      clip: true,
      silent: true,
      z: 2,
      data: shapes.map((s) => s.pts[0]),
      renderItem: (params: any, api: any) => {
        const s = shapes[params.dataIndex];
        const points = s.pts.map((q) => api.coord(q));
        return {
          type: "polygon",
          shape: {
            points,
            smooth: s.smooth || 0,
            smoothConstraint: s.smooth ? [points[0], points[0]] : undefined,
          },
          style: {
            fill: s.fill,
            stroke: s.stroke || "none",
            lineWidth: s.lw || 0,
          },
        };
      },
    });
    const [bl, bt, br, bb] = p.box;
    graphic.push({
      type: "rect", z: 20, shape: { x: bl, y: bt, width: br - bl, height: bb - bt },
      style: { fill: "#ffffff", stroke: "#4a4a4e", lineWidth: 2.2 },
    });
    graphic.push({
      type: "text", z: 21, x: (bl + br) / 2, y: (bt + bb) / 2,
      style: { text: p.title, align: "center", verticalAlign: "middle", font: '42px "Liberation Sans"', fill: "#3a3a3a" },
    });
  });

  series.push({
    type: "scatter",
    xAxisIndex: 10,
    yAxisIndex: 10,
    z: 10,
    silent: true,
    symbol: "path://M21.5 0h15v21.5h21.5v15H36.5V58h-15V36.5H0v-15h21.5z",
    symbolSize: [58, 58],
    itemStyle: { color: "#ee1c2a", opacity: 1 },
    data: [CROSS_F],
  });

  const txt = (text: string, x: number, y: number, font: string, rotation = 0) => ({
    type: "text", z: 21, x, y, rotation,
    style: { text, font, fill: TITLE_COLOR, align: "left", verticalAlign: "middle" },
  });
  graphic.push(
    txt("emmision wavelength", 728, 2358, AXIS_TITLE),
    txt("λ", 1298, 2361, '54px "Liberation Serif"'),
    txt("em", 1328, 2370, '40px "Liberation Sans"'),
    txt("[nm]", 1429, 2358, AXIS_TITLE),
    txt("excitation wavelength", 2291, 1625, AXIS_TITLE, Math.PI / 2),
    txt("λ", 2288, 1065, '54px "Liberation Serif"', Math.PI / 2),
    txt("ex", 2299, 1022, '40px "Liberation Sans"', Math.PI / 2),
    txt("[nm]", 2291, 936, AXIS_TITLE, Math.PI / 2),
  );

  return { animation: false, backgroundColor: "#ffffff", grid, xAxis, yAxis, series, graphic };
}

export default function App() {
  const ref = useRef<HTMLDivElement>(null);
  useEffect(() => {
    const chart = echarts.init(ref.current!, undefined, { renderer: "svg" });
    chart.setOption(buildOption() as any);
    return () => chart.dispose();
  }, []);
  return <div ref={ref} style={{ position: "absolute", left: 0, top: 0, width: 2329, height: 2400 }} />;
}
